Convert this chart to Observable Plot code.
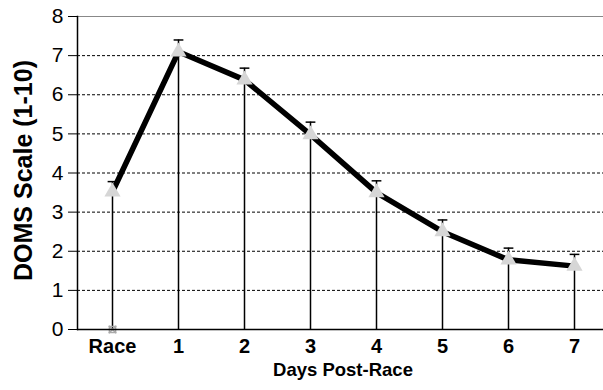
<!DOCTYPE html>
<html>
<head>
<meta charset="utf-8">
<script src="https://cdn.jsdelivr.net/npm/d3@7"></script>
<script src="https://cdn.jsdelivr.net/npm/@observablehq/plot@0.6"></script>
<style>
  html, body { margin: 0; padding: 0; background: #fff; }
  svg { overflow: visible; }
</style>
</head>
<body>
<div id="chart"></div>
<script>
const categories = ["Race", "1", "2", "3", "4", "5", "6", "7"];
const means = [3.52, 7.1, 6.38, 4.98, 3.5, 2.5, 1.78, 1.62];
const upper = [3.78, 7.4, 6.68, 5.3, 3.8, 2.8, 2.08, 1.92];
const baseline = [{cat: "Race", v: 0}];
const yTicks = [0, 1, 2, 3, 4, 5, 6, 7, 8];
const gridTicks = [1, 2, 3, 4, 5, 6, 7];

const data = categories.map((c, i) => ({cat: c, mean: means[i], up: upper[i]}));

const capSymbol = {
  draw(ctx, size) {
    const w = Math.sqrt(size) / 2;
    ctx.moveTo(-w, 0);
    ctx.lineTo(w, 0);
  }
};

const chart = Plot.plot({
  width: 603,
  height: 390,
  marginTop: 16,
  marginBottom: 61,
  marginLeft: 77,
  marginRight: -5,
  style: {fontFamily: "'Liberation Sans', Arial, sans-serif", background: "#fff", overflow: "visible"},
  x: {type: "point", domain: categories, padding: 0.5},
  y: {domain: [0, 8]},
  marks: [
    Plot.ruleY(gridTicks, {stroke: "#000", strokeWidth: 1, strokeDasharray: "3,2"}),
    Plot.ruleY([8], {stroke: "#888", strokeWidth: 1}),
    Plot.ruleX(data, {x: "cat", y1: 0, y2: "up", stroke: "#000", strokeWidth: 1.5}),
    Plot.line(data, {x: "cat", y: "mean", stroke: "#000", strokeWidth: 5.5}),
    Plot.dot(data, {x: "cat", y: "up", symbol: capSymbol, r: 5.5, stroke: "#000", strokeWidth: 1.5}),
    Plot.dot(data, {x: "cat", y: "mean", symbol: "triangle", r: 6, fill: "#d6d6d6", stroke: null}),
    Plot.dot(baseline, {x: "cat", y: "v", symbol: "square", r: 3.5, stroke: "#aaa", strokeWidth: 1.5}),
    Plot.dot(baseline, {x: "cat", y: "v", symbol: "times", r: 3.5, stroke: "#aaa", strokeWidth: 1.5}),
    Plot.axisY(yTicks, {tickSize: 9, tickPadding: 5, fontSize: 21, label: null, stroke: "#000", color: "#000"}),
    Plot.axisX({tickSize: 0, tickPadding: 9, fontSize: 20, fontWeight: "bold", label: null, color: "#000"}),
    Plot.frame({anchor: "left", stroke: "#000", strokeWidth: 1.5}),
    Plot.ruleY([0], {stroke: "#000", strokeWidth: 1.5}),
    Plot.text(["Days Post-Race"], {frameAnchor: "bottom", dy: 46, fontSize: 18.5, fontWeight: "bold", fill: "#000"}),
    Plot.text(["DOMS Scale (1-10)"], {frameAnchor: "left", dx: -54, dy: -2.5, rotate: -90, textAnchor: "middle", fontSize: 25, fontWeight: "bold", fill: "#000"})
  ]
});
document.getElementById("chart").appendChild(chart);
</script>
</body>
</html>
